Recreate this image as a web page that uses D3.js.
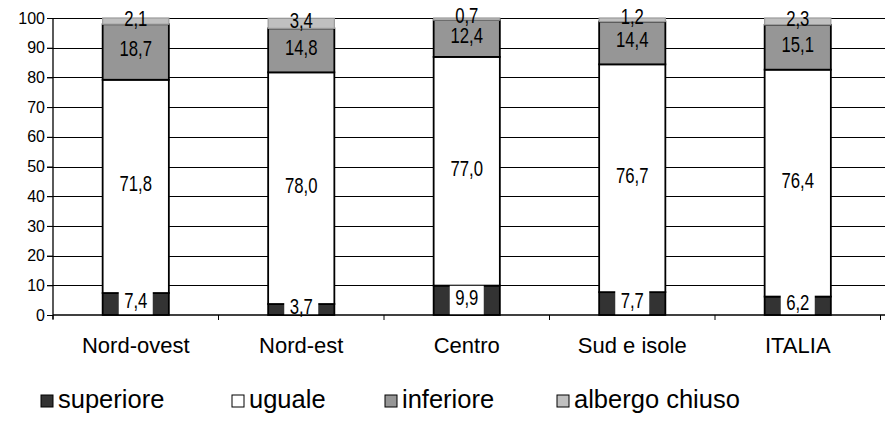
<!DOCTYPE html>
<html><head><meta charset="utf-8">
<script src="https://cdn.jsdelivr.net/npm/d3@7"></script>
<style>body{margin:0;background:#fff;} svg{display:block;font-family:"Liberation Sans",Arial,sans-serif;}</style>
</head><body>
<svg id="c" width="885" height="421"></svg>
<script>
const categories = ["Nord-ovest","Nord-est","Centro","Sud e isole","ITALIA"];
const seriesNames = ["superiore","uguale","inferiore","albergo chiuso"];
const superiore = [7.4,3.7,9.9,7.7,6.2];
const uguale = [71.8,78.0,77.0,76.7,76.4];
const inferiore = [18.7,14.8,12.4,14.4,15.1];
const albergoChiuso = [2.1,3.4,0.7,1.2,2.3];
const yTicks = [0,10,20,30,40,50,60,70,80,90,100];
const colors = ["#333333","#ffffff","#969696","#c0c0c0"];

const seriesValues = [superiore, uguale, inferiore, albergoChiuso];
const rows = categories.map((c,i)=>{const o={cat:c}; seriesNames.forEach((s,j)=>o[s]=seriesValues[j][i]); return o;});
const stackData = d3.stack().keys(seriesNames)(rows);

const svg = d3.select("#c");
const pL=53, pR=880.5, pT=18, pB=315;
const x = d3.scaleBand().domain(categories).range([pL,pR]).paddingInner(0.6).paddingOuter(0.3);
const y = d3.scaleLinear().domain([0,100]).range([pB,pT]);

// gridlines
svg.append("g").selectAll("line").data(yTicks.filter(t=>t>0)).join("line")
  .attr("x1",pL-6).attr("x2",885).attr("y1",d=>Math.round(y(d))+0.5).attr("y2",d=>Math.round(y(d))+0.5)
  .attr("stroke","#000").attr("stroke-width",1);

// y axis
const ya = svg.append("g").attr("transform",`translate(${pL},0)`)
  .call(d3.axisLeft(y).tickValues(yTicks).tickSize(6).tickPadding(2).tickFormat(d3.format("d")));
ya.select(".domain").remove();
ya.selectAll("line").attr("stroke","#000");
ya.selectAll("text").attr("font-size",16).attr("font-family","'Liberation Sans',Arial,sans-serif").attr("fill","#000");

// category labels
svg.append("g").selectAll("text").data(categories).join("text")
  .attr("x",d=>x(d)+x.bandwidth()/2).attr("y",353).attr("text-anchor","middle")
  .attr("font-size",22).text(d=>d);

// bars
stackData.forEach((s,j)=>{
  svg.append("g").selectAll("rect").data(s).join("rect")
    .attr("x",d=>x(d.data.cat)).attr("width",x.bandwidth())
    .attr("y",d=>y(d[1])).attr("height",d=>y(d[0])-y(d[1]))
    .attr("fill",colors[j]).attr("stroke",j===3?"#9a9a9a":"#000").attr("stroke-width",j===3?1.2:1.8);
});

// labels
const fmt = v=>d3.format(".1f")(v).replace(".",",");
stackData.forEach((s,j)=>{
  const g = svg.append("g");
  s.forEach(d=>{
    const cx = x(d.data.cat)+x.bandwidth()/2;
    const cy = (y(d[0])+y(d[1]))/2 - 3.5;
    const t = fmt(d[1]-d[0]);
    if(j===0){
      g.append("rect").attr("x",cx-17).attr("y",cy-11).attr("width",34).attr("height",pB-cy+11).attr("fill","#fff");
    }
    g.append("text").attr("transform",`translate(${cx},${cy}) scale(0.76,1)`)
      .attr("dy","0.36em").attr("text-anchor","middle")
      .attr("font-size",22).attr("fill","#000").text(t);
  });
});

// axes lines on top
svg.append("line").attr("x1",pL).attr("x2",pL).attr("y1",pT).attr("y2",pB+4).attr("stroke","#000").attr("stroke-width",1.3);
svg.append("line").attr("x1",pL).attr("x2",885).attr("y1",pB).attr("y2",pB).attr("stroke","#000").attr("stroke-width",1.3);
const step = x.step();
svg.append("g").selectAll("line").data(d3.range(categories.length+1)).join("line")
  .attr("x1",d=>pL+d*step).attr("x2",d=>pL+d*step).attr("y1",pB).attr("y2",pB+5)
  .attr("stroke","#000");

// legend
const lx = [41,232,385,557];
const lg = svg.append("g");
seriesNames.forEach((s,j)=>{
  lg.append("rect").attr("x",lx[j]).attr("y",395).attr("width",12).attr("height",12)
    .attr("fill",colors[j]).attr("stroke","#000").attr("stroke-width",1);
  lg.append("text").attr("x",lx[j]+17).attr("y",408).attr("font-size",25.5).text(s);
});
</script>
</body></html>
